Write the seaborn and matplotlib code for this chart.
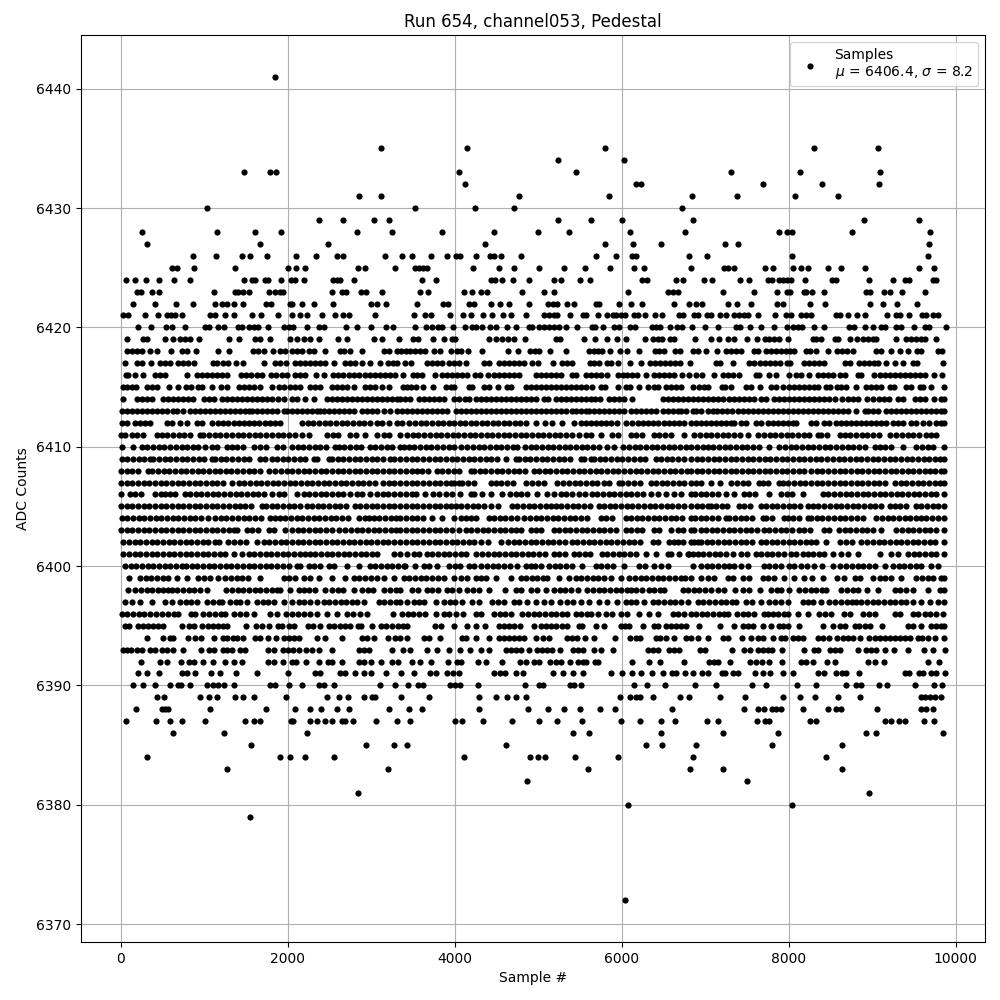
import matplotlib
matplotlib.use('Agg')
import matplotlib.pyplot as plt
import pandas as pd
import seaborn as sns

# sample numbers, one list per ADC level
s6372 = [6040]
s6379 = [1540]
s6380 = [6076, 8044]
s6381 = [2836, 8956]
s6382 = [4864, 7504]
s6383 = [1276, 3196, 5596, 6820, 7216, 8632]
s6384 = [316, 1900, 2020, 2200, 2548, 4108, 4900, 4996, 5080, 5440, 5956, 6856, 8452]
s6385 = [1552, 2932, 3268, 3424, 4612, 6292, 6484, 6892, 7804, 8632]
s6386 = [628, 1240, 2224, 5416, 5608, 6472, 7216, 7876, 8920, 9040, 9844]
s6387 = [64, 424, 592, 736, 1012, 1480, 1588, 1660, 2032, 2056, 2260, 2344, 2440, 2524, 2644, 2680, 2776, 3052, 3304,
         3460, 4000, 4084, 4336, 4684, 5008, 5224, 5524, 5992, 6220, 6472, 6640, 7024, 7156, 7624, 7720, 7768, 8260,
         8332, 9148, 9220, 9316, 9388, 9616, 9736]
s6388 = [184, 496, 532, 568, 1072, 1732, 2080, 2260, 2392, 2584, 2728, 3208, 3448, 3604, 4288, 4876, 5116, 5308, 5500,
         5740, 5920, 6604, 7468, 7636, 7708, 7804, 7852, 7912, 8176, 8476, 8560, 8620, 9052, 9580, 9640, 9724]
s6389 = [436, 520, 952, 1060, 1156, 1360, 1456, 1588, 1972, 2464, 2608, 2716, 2908, 3004, 3040, 3352, 3688, 4288, 4492,
         4624, 4732, 4852, 5980, 6100, 6172, 6220, 6376, 6700, 6808, 7180, 7480, 7936, 8140, 8320, 8584, 8848, 9580,
         9628, 9688, 9748, 9820]
s6390 = [148, 268, 412, 592, 688, 724, 832, 1036, 1108, 1168, 1240, 1348, 1780, 1840, 2008, 2164, 2368, 2428, 2548,
         3100, 3280, 3436, 3556, 3616, 3940, 4000, 4060, 4276, 4840, 5008, 5056, 5380, 5428, 5512, 6148, 6304, 6520,
         6880, 7132, 7564, 7732, 8104, 8332, 8688, 8800, 8860, 9076, 9172, 9508, 9736, 9832]
s6391 = [208, 308, 460, 736, 796, 892, 1084, 1192, 1372, 1624, 1996, 2320, 2380, 2620, 2680, 2800, 2908, 2992, 3172,
         3352, 3508, 3700, 3772, 3904, 3976, 4048, 4468, 4540, 4600, 4732, 4816, 5176, 5296, 5416, 5536, 5872, 6004,
         6124, 6232, 6364, 6496, 6604, 6652, 6760, 6856, 6964, 7036, 7204, 7240, 7336, 7396, 7600, 7696, 7780, 7936,
         8056, 8356, 8428, 8560, 8632, 8680, 8836, 9388, 9436, 9556, 9604, 9700, 9760, 9868]
s6392 = [244, 472, 556, 724, 820, 880, 988, 1108, 1252, 1348, 1444, 1756, 1828, 1936, 2044, 2092, 2212, 2368, 2476,
         2524, 2644, 2848, 2908, 2992, 3112, 3244, 3316, 3484, 3580, 3712, 3916, 4024, 4072, 4276, 4372, 4564, 4780,
         4852, 4948, 5008, 5140, 5212, 5272, 5380, 5476, 5536, 5572, 5680, 5716, 6124, 6328, 6460, 6748, 7048, 7108,
         7156, 7300, 7540, 7612, 7684, 7768, 7924, 8152, 8212, 8296, 8464, 8548, 8944, 9028, 9136, 9664, 9796]
s6393 = [20, 68, 116, 196, 256, 348, 408, 496, 556, 628, 748, 960, 1060, 1116, 1220, 1276, 1328, 1420, 1488, 1756, 1836,
         1936, 1996, 2056, 2132, 2220, 2288, 2368, 2524, 2848, 2908, 2968, 3244, 3376, 3468, 3664, 3784, 3928, 4060,
         4180, 4316, 4408, 4612, 4672, 4732, 4792, 4888, 4988, 5048, 5108, 5168, 5260, 5416, 5476, 5536, 5668, 5748,
         5896, 6316, 6376, 6436, 6568, 6628, 6688, 6940, 6996, 7324, 7468, 7540, 7636, 7696, 7756, 7804, 7916, 8188,
         8308, 8356, 8500, 8548, 8608, 8824, 8928, 8988, 9048, 9148, 9256, 9424, 9616, 9724, 9868]
s6394 = [316, 508, 588, 628, 808, 888, 956, 1120, 1228, 1276, 1340, 1388, 1456, 1600, 1668, 1756, 1856, 1948, 2008, 2068,
         2128, 2348, 2448, 2648, 2888, 2948, 3028, 3196, 3288, 3348, 3428, 3628, 3688, 3820, 4088, 4136, 4256, 4408,
         4528, 4588, 4648, 4708, 4768, 4828, 4968, 5060, 5128, 5348, 5408, 5468, 5560, 5668, 5920, 6100, 6172, 6212,
         6408, 6460, 6528, 6628, 6772, 6828, 6908, 7036, 7208, 7268, 7436, 7548, 7628, 7688, 7816, 7908, 7960, 8048,
         8108, 8168, 8356, 8416, 8480, 8580, 8648, 8708, 8768, 8848, 8956, 9028, 9088, 9148, 9208, 9268, 9328, 9388,
         9448, 9548, 9596, 9664, 9748, 9860]
s6395 = [48, 100, 208, 268, 328, 388, 448, 508, 728, 820, 876, 968, 1048, 1100, 1168, 1228, 1268, 1492, 1612, 1688,
         1768, 1876, 1928, 2008, 2068, 2236, 2296, 2380, 2488, 2548, 2620, 2688, 2748, 2836, 2876, 3008, 3116, 3176,
         3248, 3316, 3376, 3428, 3760, 3828, 3988, 4148, 4256, 4360, 4528, 4588, 4648, 4708, 4780, 4948, 5028, 5088,
         5148, 5208, 5288, 5348, 5488, 5528, 5696, 5788, 5996, 6036, 6088, 6252, 6388, 6436, 6528, 6588, 6648, 6708,
         6768, 6928, 7180, 7348, 7448, 7508, 7568, 7688, 7788, 7888, 7936, 7996, 8128, 8416, 8536, 8608, 8668, 8788,
         8836, 8908, 8968, 9116, 9428, 9488, 9588, 9700, 9760, 9820, 9860]
s6396 = [8, 76, 144, 212, 280, 348, 416, 488, 560, 636, 688, 836, 888, 980, 1060, 1130, 1200, 1248, 1356, 1424, 1492,
         1588, 1788, 1868, 1980, 2050, 2120, 2190, 2260, 2348, 2468, 2588, 2708, 2780, 2860, 2948, 3260, 3368, 3436,
         3504, 3572, 3648, 3776, 3868, 3928, 4008, 4100, 4248, 4308, 4468, 4536, 4604, 4668, 4808, 4876, 4944, 5012,
         5080, 5148, 5216, 5284, 5348, 5448, 5516, 5584, 5628, 5716, 5808, 5888, 5988, 6068, 6208, 6328, 6428, 6608,
         6676, 6744, 6828, 6888, 6956, 7024, 7092, 7160, 7228, 7276, 7380, 7448, 7516, 7588, 7700, 7748, 7808, 7876,
         7944, 7988, 8108, 8228, 8368, 8436, 8508, 8660, 8728, 8888, 8956, 9028, 9268, 9328, 9488, 9548, 9628, 9696,
         9768, 9848]
s6397 = [48, 128, 228, 376, 528, 608, 708, 776, 844, 908, 1028, 1108, 1176, 1208, 1308, 1376, 1428, 1508, 1628, 1696,
         1764, 1828, 1948, 2048, 2128, 2196, 2264, 2348, 2428, 2496, 2564, 2632, 2700, 2768, 2828, 2908, 3088, 3156,
         3224, 3292, 3348, 3428, 3508, 3576, 3628, 3768, 3868, 3936, 4004, 4088, 4208, 4288, 4448, 4516, 4588, 4708,
         4768, 4868, 4968, 5068, 5148, 5260, 5348, 5416, 5508, 5608, 5728, 5828, 5948, 6048, 6108, 6168, 6268, 6368,
         6436, 6504, 6572, 6640, 6708, 6788, 6908, 6976, 7044, 7112, 7188, 7248, 7316, 7368, 7488, 7556, 7668, 7768,
         7836, 7908, 7988, 8168, 8236, 8288, 8388, 8488, 8556, 8624, 8692, 8760, 8808, 8868, 8936, 9004, 9072, 9140,
         9208, 9276, 9348, 9408, 9488, 9588, 9688, 9788, 9860]
s6398 = [88, 168, 236, 308, 376, 448, 508, 568, 608, 676, 744, 812, 880, 948, 1028, 1260, 1328, 1396, 1464, 1532, 1600,
         1668, 1736, 1804, 1872, 1908, 2028, 2128, 2196, 2248, 2328, 2448, 2528, 2596, 2664, 2788, 2888, 2956, 3024,
         3148, 3228, 3296, 3348, 3488, 3556, 3668, 3728, 3796, 3908, 3968, 4048, 4148, 4216, 4284, 4408, 4600, 4728,
         4796, 4908, 4988, 5088, 5188, 5256, 5324, 5388, 5476, 5588, 5656, 5724, 5792, 5860, 5928, 5996, 6064, 6108,
         6168, 6236, 6328, 6388, 6456, 6508, 6728, 6796, 6860, 6928, 6996, 7064, 7148, 7228, 7360, 7456, 7528, 7656,
         7788, 7856, 7908, 8008, 8128, 8196, 8264, 8332, 8400, 8448, 8628, 8696, 8764, 8828, 8940, 9068, 9268, 9336,
         9408, 9488, 9668, 9808, 9860]
s6399 = [96, 228, 296, 364, 432, 500, 568, 668, 796, 928, 996, 1064, 1168, 1248, 1316, 1384, 1452, 1520, 1668, 1948,
         2016, 2084, 2188, 2268, 2368, 2528, 2680, 2788, 2856, 2924, 2992, 3068, 3148, 3268, 3388, 3456, 3524, 3592,
         3660, 3728, 3796, 3868, 3988, 4076, 4144, 4248, 4308, 4376, 4488, 4668, 4788, 4856, 4924, 4988, 5056, 5108,
         5248, 5368, 5448, 5516, 5584, 5652, 5720, 5788, 5868, 5988, 6088, 6156, 6224, 6292, 6360, 6428, 6496, 6564,
         6632, 6708, 6756, 6828, 6948, 7028, 7108, 7268, 7336, 7448, 7520, 7688, 7756, 7824, 7948, 8068, 8180, 8276,
         8408, 8576, 8656, 8788, 8856, 9008, 9088, 9156, 9224, 9348, 9528, 9596, 9664, 9732, 9828, 9860]
s6400 = [48, 116, 184, 252, 320, 388, 456, 524, 592, 660, 728, 780, 848, 916, 984, 1052, 1120, 1188, 1256, 1324, 1392,
         1460, 1528, 1596, 1664, 1732, 1800, 1868, 1936, 2008, 2108, 2148, 2248, 2308, 2388, 2488, 2556, 2708, 2848,
         2988, 3048, 3116, 3184, 3252, 3320, 3388, 3408, 3528, 3628, 3696, 3788, 3928, 3996, 4064, 4168, 4228, 4316,
         4384, 4452, 4520, 4588, 4656, 4748, 4848, 4908, 4956, 5028, 5128, 5196, 5264, 5332, 5400, 5528, 5688, 5756,
         5824, 5892, 6028, 6208, 6276, 6388, 6468, 6548, 6848, 6948, 7016, 7084, 7152, 7220, 7288, 7348, 7428, 7508,
         7700, 7768, 7836, 7904, 8008, 8068, 8148, 8216, 8308, 8396, 8528, 8608, 8688, 8756, 8824, 8892, 8960, 9028,
         9148, 9248, 9316, 9384, 9452, 9520, 9588, 9708, 9788]
s6401 = [28, 96, 164, 232, 300, 368, 436, 504, 572, 640, 708, 776, 844, 912, 980, 1048, 1116, 1184, 1252, 1348, 1444,
         1528, 1596, 1664, 1732, 1800, 1868, 1936, 2004, 2072, 2140, 2208, 2268, 2328, 2396, 2464, 2532, 2600, 2668,
         2736, 2804, 2872, 2940, 3008, 3068, 3268, 3348, 3428, 3508, 3576, 3668, 3728, 3796, 3864, 3932, 4000, 4068,
         4136, 4248, 4328, 4396, 4464, 4532, 4600, 4668, 4736, 4804, 4872, 4940, 5008, 5076, 5188, 5248, 5316, 5428,
         5488, 5556, 5624, 5768, 5828, 5896, 5964, 6032, 6100, 6168, 6288, 6408, 6548, 6588, 6688, 6808, 6788, 6848,
         6908, 6976, 7044, 7112, 7180, 7248, 7328, 7428, 7496, 7608, 7668, 7736, 7804, 7872, 7940, 8028, 8088, 8168,
         8228, 8296, 8364, 8428, 8528, 8628, 8708, 8828, 9088, 9228, 9308, 9428, 9496, 9564, 9632, 9700, 9768, 9860]
s6402 = [28, 96, 164, 232, 300, 368, 436, 504, 572, 640, 708, 776, 844, 912, 980, 1048, 1128, 1180, 1288, 1356, 1424,
         1492, 1628, 1708, 1776, 1844, 1912, 1980, 2048, 2116, 2184, 2252, 2320, 2388, 2456, 2524, 2592, 2660, 2728,
         2796, 2864, 2932, 3000, 3068, 3136, 3204, 3272, 3348, 3416, 3484, 3552, 3620, 3688, 3756, 3824, 3892, 3960,
         4028, 4096, 4164, 4232, 4308, 4396, 4556, 4636, 4704, 4772, 4840, 4908, 4976, 5044, 5112, 5180, 5248, 5316,
         5408, 5468, 5536, 5604, 5672, 5740, 5808, 5876, 5944, 6012, 6088, 6148, 6216, 6368, 6428, 6568, 6628, 6668,
         6728, 6828, 6868, 6908, 6948, 7016, 7084, 7152, 7220, 7288, 7356, 7424, 7492, 7560, 7668, 7728, 7796, 7864,
         7932, 8000, 8068, 8136, 8204, 8272, 8328, 8448, 8608, 8688, 8756, 8868, 8940, 9008, 9076, 9144, 9212, 9280,
         9348, 9416, 9484, 9552, 9620, 9688, 9756, 9860]
s6403 = [0, 68, 136, 204, 272, 340, 408, 476, 544, 612, 680, 748, 816, 884, 952, 1020, 1088, 1156, 1224, 1292, 1348,
         1388, 1508, 1568, 1636, 1768, 1828, 1968, 2048, 2116, 2184, 2252, 2320, 2388, 2456, 2524, 2608, 2688, 2756,
         2824, 2892, 2960, 3028, 3096, 3164, 3232, 3300, 3348, 3416, 3484, 3552, 3620, 3688, 3756, 3824, 3892, 3960,
         4048, 4128, 4196, 4264, 4332, 4400, 4468, 4536, 4604, 4672, 4728, 4788, 4908, 4968, 5028, 5188, 5248, 5316,
         5384, 5452, 5520, 5588, 5656, 5724, 5792, 5860, 5928, 6048, 6108, 6176, 6244, 6388, 6448, 6588, 6668, 6736,
         6828, 6868, 6948, 7008, 7076, 7144, 7212, 7280, 7348, 7416, 7484, 7552, 7620, 7708, 7768, 7836, 7904, 7972,
         8040, 8128, 8188, 8256, 8428, 8488, 8600, 8668, 8736, 8804, 8872, 8940, 9008, 9108, 9288, 9356, 9424, 9492,
         9560, 9628, 9696, 9764, 9860]
s6404 = [8, 76, 144, 212, 280, 348, 416, 484, 552, 620, 688, 756, 824, 892, 960, 1048, 1128, 1196, 1264, 1332, 1400,
         1468, 1536, 1604, 1672, 1788, 1848, 1908, 1968, 2036, 2104, 2172, 2240, 2308, 2376, 2444, 2512, 2580, 2648,
         2716, 2848, 2928, 2968, 3028, 3096, 3164, 3232, 3300, 3348, 3416, 3484, 3552, 3620, 3728, 3848, 3988, 4068,
         4128, 4188, 4256, 4408, 4468, 4536, 4604, 4672, 4740, 4828, 4900, 4968, 5036, 5104, 5172, 5240, 5308, 5376,
         5444, 5512, 5588, 5748, 5816, 5884, 6048, 6108, 6176, 6244, 6312, 6380, 6448, 6516, 6584, 6652, 6720, 6828,
         6876, 6944, 7012, 7080, 7148, 7248, 7288, 7356, 7424, 7492, 7560, 7688, 7728, 7796, 7948, 7988, 8056, 8124,
         8228, 8268, 8336, 8404, 8472, 8540, 8608, 8676, 8744, 8812, 8888, 9048, 9116, 9184, 9252, 9320, 9388, 9456,
         9524, 9588, 9648, 9716, 9784, 9860]
s6405 = [0, 68, 136, 204, 272, 340, 408, 476, 544, 612, 680, 748, 816, 884, 952, 1020, 1088, 1156, 1224, 1292, 1360,
         1428, 1488, 1556, 1688, 1736, 1804, 1872, 1940, 2008, 2076, 2144, 2228, 2288, 2356, 2424, 2492, 2560, 2628,
         2696, 2808, 2868, 2936, 3004, 3072, 3140, 3208, 3276, 3348, 3416, 3484, 3552, 3620, 3688, 3756, 3824, 3892,
         3948, 4008, 4076, 4144, 4212, 4280, 4348, 4428, 4516, 4688, 4748, 4816, 4884, 4952, 5020, 5088, 5148, 5208,
         5276, 5344, 5412, 5480, 5548, 5616, 5728, 5788, 5856, 5924, 5992, 6060, 6128, 6196, 6264, 6332, 6400, 6468,
         6536, 6604, 6672, 6740, 6828, 6896, 6964, 7032, 7068, 7128, 7196, 7264, 7408, 7468, 7536, 7668, 7728, 7796,
         7864, 7932, 8000, 8068, 8136, 8228, 8288, 8356, 8424, 8492, 8560, 8628, 8696, 8764, 8832, 8900, 8968, 9036,
         9104, 9208, 9268, 9336, 9404, 9528, 9588, 9656, 9724, 9792, 9860]
s6406 = [0, 108, 168, 236, 408, 476, 528, 588, 648, 768, 828, 896, 964, 1032, 1100, 1168, 1236, 1304, 1372, 1440, 1508,
         1576, 1644, 1712, 1808, 1888, 1956, 2108, 2188, 2256, 2324, 2392, 2460, 2528, 2596, 2664, 2748, 2828, 2888,
         2980, 3068, 3136, 3204, 3272, 3348, 3416, 3488, 3540, 3648, 3740, 3808, 3888, 3968, 4060, 4188, 4228, 4328,
         4428, 4568, 4660, 4728, 4796, 4864, 4988, 5108, 5188, 5268, 5328, 5408, 5488, 5556, 5648, 5708, 5776, 5844,
         5912, 5980, 6048, 6116, 6184, 6252, 6348, 6428, 6528, 6628, 6708, 6828, 6876, 6944, 7012, 7080, 7148, 7248,
         7348, 7468, 7528, 7596, 7768, 7908, 7976, 8044, 8168, 8408, 8476, 8544, 8612, 8680, 8748, 8816, 8884, 8952,
         9020, 9088, 9156, 9224, 9292, 9360, 9428, 9496, 9564, 9632, 9700, 9768, 9860]
s6407 = [0, 68, 136, 204, 272, 340, 408, 476, 544, 612, 680, 748, 816, 884, 952, 1020, 1088, 1156, 1224, 1328, 1408,
         1476, 1544, 1612, 1680, 1748, 1816, 1884, 1952, 2028, 2088, 2156, 2224, 2292, 2360, 2428, 2496, 2564, 2632,
         2700, 2768, 2836, 2904, 2972, 3048, 3140, 3208, 3276, 3348, 3416, 3484, 3552, 3620, 3688, 3756, 3824, 3892,
         3948, 3988, 4048, 4088, 4156, 4224, 4428, 4488, 4556, 4624, 4692, 4848, 4928, 4996, 5064, 5228, 5300, 5368,
         5436, 5504, 5572, 5640, 5708, 5788, 5848, 5968, 6008, 6076, 6144, 6212, 6348, 6408, 6476, 6544, 6612, 6680,
         6748, 6828, 6888, 6948, 7068, 7180, 7308, 7380, 7448, 7516, 7648, 7688, 7756, 7888, 7928, 7996, 8064, 8132,
         8200, 8268, 8336, 8404, 8472, 8540, 8608, 8676, 8744, 8812, 8880, 8948, 9016, 9084, 9152, 9268, 9340, 9408,
         9476, 9544, 9612, 9680, 9748, 9816, 9860]
s6408 = [0, 68, 136, 204, 328, 376, 444, 512, 580, 648, 716, 784, 852, 920, 988, 1056, 1128, 1188, 1256, 1324, 1392,
         1460, 1528, 1596, 1664, 1768, 1848, 1916, 1984, 2052, 2120, 2188, 2256, 2324, 2392, 2460, 2528, 2596, 2664,
         2732, 2800, 2868, 2936, 3004, 3072, 3140, 3208, 3276, 3348, 3416, 3484, 3548, 3608, 3676, 3788, 3848, 3916,
         3984, 4052, 4188, 4228, 4296, 4364, 4432, 4500, 4568, 4636, 4704, 4772, 4840, 4948, 5008, 5076, 5144, 5212,
         5280, 5348, 5416, 5484, 5552, 5620, 5688, 5756, 5824, 5892, 5960, 6028, 6096, 6164, 6232, 6300, 6368, 6436,
         6504, 6572, 6640, 6708, 6776, 6828, 6896, 6964, 7032, 7100, 7168, 7236, 7304, 7372, 7440, 7508, 7576, 7644,
         7712, 7780, 7848, 7916, 7984, 8052, 8120, 8188, 8268, 8336, 8404, 8472, 8540, 8608, 8676, 8744, 8812, 8880,
         8948, 9016, 9084, 9152, 9220, 9288, 9356, 9424, 9492, 9560, 9628, 9688, 9756, 9824, 9860]
s6409 = [8, 76, 144, 212, 280, 348, 388, 456, 524, 592, 660, 728, 796, 864, 932, 1000, 1088, 1128, 1196, 1264, 1332,
         1400, 1468, 1536, 1668, 1728, 1808, 1868, 1936, 2004, 2072, 2140, 2208, 2308, 2348, 2488, 2528, 2596, 2664,
         2732, 2800, 2868, 2936, 3004, 3072, 3140, 3228, 3268, 3348, 3416, 3484, 3552, 3620, 3688, 3756, 3824, 3892,
         3960, 4028, 4096, 4164, 4232, 4300, 4368, 4436, 4508, 4616, 4728, 4768, 4836, 4904, 4972, 5040, 5108, 5176,
         5244, 5312, 5380, 5508, 5548, 5628, 5668, 5736, 5804, 5872, 5940, 6008, 6076, 6144, 6212, 6280, 6408, 6468,
         6536, 6604, 6672, 6740, 6828, 6896, 6964, 7032, 7100, 7168, 7236, 7304, 7372, 7440, 7508, 7576, 7644, 7712,
         7780, 7848, 7916, 7984, 8052, 8120, 8188, 8256, 8324, 8392, 8460, 8528, 8596, 8664, 8732, 8800, 8868, 8936,
         9004, 9072, 9140, 9208, 9276, 9344, 9412, 9480, 9548, 9616, 9684, 9748, 9808, 9860]
s6410 = [8, 148, 248, 316, 384, 452, 520, 588, 656, 728, 796, 864, 928, 1008, 1088, 1156, 1268, 1328, 1388, 1456, 1588,
         1668, 1736, 1868, 1940, 2048, 2116, 2184, 2252, 2320, 2388, 2456, 2568, 2608, 2676, 2744, 2812, 2880, 2988,
         3048, 3116, 3184, 3252, 3348, 3388, 3448, 3516, 3584, 3652, 3720, 3788, 3856, 3924, 3992, 4068, 4148, 4216,
         4284, 4352, 4420, 4488, 4556, 4624, 4692, 4748, 4840, 4908, 4976, 5044, 5112, 5180, 5248, 5316, 5384, 5452,
         5520, 5588, 5656, 5724, 5828, 5908, 6016, 6084, 6152, 6220, 6288, 6356, 6424, 6492, 6560, 6628, 6696, 6764,
         6828, 6896, 6968, 7028, 7096, 7164, 7232, 7300, 7368, 7436, 7504, 7572, 7640, 7768, 7888, 7956, 8024, 8092,
         8160, 8228, 8296, 8364, 8432, 8500, 8568, 8636, 8704, 8772, 8840, 8908, 9028, 9088, 9156, 9224, 9368, 9528,
         9596, 9664, 9732, 9860]
s6411 = [0, 48, 128, 196, 264, 428, 488, 556, 624, 692, 760, 828, 948, 988, 1056, 1124, 1192, 1260, 1328, 1396, 1464,
         1532, 1600, 1668, 1736, 1808, 1876, 1944, 2012, 2080, 2168, 2248, 2468, 2536, 2604, 2748, 2820, 2928, 3068,
         3148, 3216, 3348, 3428, 3496, 3564, 3632, 3700, 3768, 3836, 3904, 3972, 4040, 4108, 4176, 4244, 4312, 4380,
         4448, 4516, 4584, 4652, 4720, 4788, 4856, 4924, 4992, 5060, 5128, 5196, 5264, 5332, 5400, 5488, 5568, 5636,
         5748, 5888, 5956, 6108, 6168, 6236, 6388, 6448, 6516, 6584, 6748, 6868, 6936, 7004, 7072, 7140, 7208, 7276,
         7344, 7412, 7508, 7636, 7704, 7772, 7840, 7908, 7976, 8044, 8112, 8180, 8248, 8348, 8388, 8456, 8608, 8668,
         8736, 8804, 8872, 8940, 9008, 9076, 9208, 9288, 9356, 9424, 9492, 9560, 9648, 9708, 9768]
s6412 = [8, 68, 168, 228, 288, 348, 548, 608, 708, 788, 908, 968, 1088, 1168, 1228, 1288, 1348, 1408, 1468, 1528, 1588,
         1648, 1728, 1788, 1848, 1908, 2168, 2236, 2304, 2372, 2440, 2508, 2576, 2644, 2712, 2780, 2848, 2916, 2988,
         3068, 3128, 3208, 3308, 3368, 3448, 3528, 3594, 3660, 3726, 3792, 3858, 3924, 3990, 4056, 4122, 4188, 4254,
         4320, 4386, 4452, 4518, 4584, 4650, 4716, 4782, 4848, 4968, 5080, 5168, 5288, 5428, 5516, 5576, 5636, 5696,
         5756, 5816, 5876, 5948, 6048, 6128, 6190, 6252, 6314, 6376, 6438, 6500, 6562, 6624, 6686, 6748, 6828, 6888,
         6948, 7008, 7068, 7128, 7188, 7248, 7308, 7348, 7428, 7488, 7608, 7668, 7748, 7808, 7868, 7928, 7988, 8048,
         8088, 8268, 8328, 8428, 8488, 8568, 8628, 8688, 8748, 8808, 8868, 8928, 8988, 9048, 9108, 9168, 9248, 9308,
         9368, 9468, 9528, 9608, 9676, 9768, 9828, 9860]
s6413 = [8, 68, 128, 188, 248, 308, 368, 428, 488, 548, 620, 668, 748, 828, 888, 948, 1008, 1068, 1128, 1188, 1248, 1308,
         1368, 1428, 1488, 1528, 1568, 1628, 1688, 1748, 1808, 1868, 1948, 1988, 2048, 2108, 2168, 2228, 2288, 2348,
         2388, 2428, 2488, 2548, 2608, 2668, 2728, 2788, 2888, 2948, 3008, 3068, 3148, 3220, 3308, 3368, 3428, 3488,
         3548, 3608, 3668, 3728, 3788, 3848, 3908, 4008, 4068, 4128, 4188, 4248, 4308, 4368, 4428, 4488, 4548, 4608,
         4668, 4728, 4788, 4848, 4908, 4968, 5028, 5088, 5148, 5208, 5268, 5328, 5408, 5448, 5508, 5568, 5608, 5668,
         5728, 5788, 5848, 5908, 5968, 6028, 6108, 6168, 6228, 6288, 6348, 6408, 6488, 6548, 6608, 6668, 6708, 6768,
         6848, 6888, 6948, 7028, 7088, 7140, 7200, 7260, 7320, 7388, 7448, 7508, 7568, 7628, 7688, 7748, 7808, 7868,
         7928, 7988, 8048, 8108, 8168, 8228, 8288, 8348, 8408, 8468, 8528, 8588, 8648, 8708, 8808, 8908, 8948, 9008,
         9068, 9168, 9228, 9288, 9348, 9408, 9468, 9528, 9588, 9648, 9708, 9768, 9828, 9860]
s6414 = [20, 188, 248, 308, 368, 508, 568, 628, 688, 748, 808, 868, 996, 1056, 1116, 1208, 1268, 1328, 1388, 1448, 1508,
         1568, 1628, 1688, 1748, 1808, 1880, 1948, 2048, 2108, 2208, 2308, 2468, 2528, 2588, 2648, 2708, 2768, 2828,
         2888, 2948, 3008, 3068, 3128, 3188, 3248, 3308, 3348, 3408, 3468, 3568, 3628, 3688, 3748, 3808, 3868, 3988,
         4048, 4116, 4168, 4248, 4308, 4368, 4428, 4488, 4548, 4608, 4668, 4728, 4788, 4848, 4908, 4968, 5068, 5116,
         5208, 5268, 5328, 5388, 5448, 5508, 5568, 5628, 5676, 5740, 5848, 5908, 5968, 6028, 6128, 6488, 6548, 6608,
         6668, 6728, 6788, 6848, 6908, 6968, 7028, 7088, 7148, 7208, 7288, 7348, 7408, 7468, 7528, 7580, 7668, 7728,
         7820, 7880, 7940, 8000, 8060, 8120, 8180, 8240, 8300, 8360, 8420, 8480, 8548, 8636, 8708, 8768, 8828, 8940,
         9008, 9076, 9136, 9196, 9308, 9368, 9516, 9576, 9636, 9736, 9828, 9860]
s6415 = [20, 68, 128, 180, 308, 368, 428, 580, 688, 780, 836, 928, 976, 1088, 1196, 1276, 1408, 1468, 1528, 1588, 1668,
         1808, 1888, 1948, 2028, 2088, 2148, 2268, 2328, 2380, 2528, 2588, 2648, 2708, 2788, 2928, 2988, 3048, 3128,
         3208, 3380, 3428, 3476, 3540, 3616, 3736, 3888, 3948, 3988, 4168, 4208, 4348, 4408, 4520, 4628, 4676, 4848,
         4908, 4968, 5028, 5088, 5148, 5208, 5268, 5328, 5388, 5448, 5508, 5568, 5648, 5748, 5796, 5956, 6048, 6100,
         6208, 6316, 6388, 6436, 6528, 6588, 6648, 6708, 6848, 6928, 6988, 7028, 7196, 7240, 7308, 7488, 7548, 7660,
         7788, 7848, 7928, 8008, 8068, 8128, 8188, 8248, 8308, 8348, 8448, 8496, 8576, 8628, 8688, 8800, 8928, 8988,
         9048, 9108, 9208, 9256, 9408, 9468, 9576, 9608, 9700, 9860]
s6416 = [60, 88, 168, 260, 408, 468, 528, 788, 908, 968, 1028, 1088, 1148, 1208, 1268, 1436, 1496, 1556, 1628, 1688,
         1796, 1856, 1928, 1988, 2088, 2148, 2208, 2340, 2428, 2536, 2596, 2656, 2728, 2788, 2848, 2928, 2988, 3048,
         3108, 3168, 3228, 3288, 3380, 3500, 3548, 3608, 3760, 3848, 3908, 3968, 4028, 4088, 4148, 4236, 4296, 4400,
         4468, 4528, 4588, 4648, 4708, 4768, 4976, 5036, 5088, 5148, 5208, 5268, 5400, 5452, 5576, 5628, 5688, 5748,
         5828, 5960, 6016, 6068, 6128, 6180, 6288, 6388, 6448, 6508, 6568, 6628, 6716, 6808, 6888, 6956, 7108, 7208,
         7268, 7328, 7408, 7608, 7648, 7768, 7848, 8008, 8088, 8148, 8248, 8348, 8408, 8468, 8528, 8608, 8668, 8828,
         8868, 9020, 9088, 9156, 9216, 9276, 9336, 9396, 9456, 9516, 9576, 9636, 9740, 9836]
s6417 = [52, 188, 248, 356, 468, 528, 592, 688, 748, 808, 876, 1108, 1156, 1228, 1288, 1372, 1460, 1708, 1848, 1908,
         1976, 2088, 2148, 2208, 2268, 2328, 2388, 2448, 2548, 2680, 2748, 2808, 2888, 2980, 3100, 3196, 3256, 3308,
         3408, 3476, 3668, 3728, 3788, 3848, 3928, 3988, 4048, 4128, 4348, 4408, 4528, 4588, 4648, 4708, 4768, 4828,
         4928, 4996, 5176, 5288, 5348, 5408, 5616, 5668, 5728, 5820, 5876, 5956, 6096, 6228, 6340, 6400, 6460, 6520,
         6580, 6640, 6700, 6820, 7128, 7180, 7328, 7528, 7580, 7660, 7720, 7780, 7840, 7900, 7980, 8020, 8180, 8240,
         8300, 8360, 8420, 8668, 8728, 8836, 8896, 8956, 9016, 9068, 9168, 9268, 9368, 9488, 9536, 9844]
s6418 = [68, 128, 188, 248, 348, 436, 604, 736, 796, 900, 1168, 1300, 1580, 1636, 1708, 1816, 1908, 1968, 2048, 2108,
         2168, 2248, 2308, 2448, 2620, 2676, 2748, 2888, 3156, 3208, 3308, 3356, 3412, 3468, 3528, 3588, 3648, 3748,
         3820, 3956, 4020, 4076, 4156, 4324, 4636, 4756, 4896, 4956, 5008, 5140, 5328, 5608, 5668, 5716, 5768, 5860,
         5980, 6068, 6200, 6396, 6448, 6508, 6636, 6700, 6856, 6908, 7012, 7144, 7248, 7308, 7368, 7428, 7580, 7636,
         7728, 7788, 7848, 7908, 7968, 8020, 8068, 8212, 8260, 8328, 8476, 8576, 8636, 8696, 8768, 9048, 9108, 9220,
         9336, 9428, 9532, 9580, 9788, 9836]
s6419 = [76, 268, 308, 532, 628, 708, 768, 832, 940, 1300, 1408, 1608, 1668, 1780, 2020, 2108, 2188, 2260, 2368, 2596,
         2704, 3028, 3128, 3328, 3500, 3556, 3736, 3868, 3968, 4000, 4408, 4488, 4568, 4636, 4708, 4840, 5216, 5256,
         5548, 5680, 5820, 5948, 6052, 6280, 6376, 6428, 6476, 6580, 6628, 6880, 7068, 7168, 7276, 7340, 7504, 7624,
         7716, 7768, 7828, 7888, 7996, 8288, 8328, 8392, 8548, 8588, 8728, 8816, 8888, 8948, 9008, 9048, 9280, 9400,
         9460, 9528, 9588, 9628, 9760]
s6420 = [208, 364, 544, 616, 772, 1012, 1060, 1168, 1240, 1396, 1444, 1528, 1588, 1636, 1760, 1948, 2008, 2056, 2224,
         2368, 2428, 2692, 2824, 2992, 3172, 3256, 3520, 3652, 3724, 3796, 3844, 3976, 4120, 4204, 4252, 4324, 4420,
         4492, 4624, 4732, 4888, 4924, 5008, 5068, 5128, 5188, 5248, 5332, 5464, 5644, 5680, 5776, 5908, 5968, 6100,
         6160, 6364, 6412, 6460, 6580, 6664, 6724, 6844, 7000, 7156, 7372, 7420, 7540, 7672, 7828, 7984, 8056, 8116,
         8164, 8308, 8428, 8716, 8776, 8908, 9004, 9100, 9148, 9280, 9340, 9496, 9628, 9676, 9880]
s6421 = [28, 88, 292, 448, 556, 604, 652, 736, 1072, 1132, 1252, 1348, 1564, 1672, 1876, 2044, 2140, 2224, 2404, 2560,
         2656, 2728, 3040, 3508, 3640, 3712, 3940, 4096, 4192, 4336, 4444, 4576, 4672, 4852, 5068, 5128, 5188, 5228,
         5380, 5536, 5572, 5716, 5824, 5896, 5932, 5992, 6040, 6148, 6196, 6280, 6400, 6484, 6688, 6736, 6868, 6916,
         7024, 7072, 7180, 7252, 7348, 7408, 7468, 7508, 7636, 7840, 7972, 8032, 8152, 8212, 8272, 8560, 8608, 8704,
         8812, 8908, 9172, 9280, 9328, 9436, 9592, 9640, 9724, 9784]
s6422 = [148, 412, 664, 868, 1132, 1216, 1276, 1348, 1456, 1732, 1792, 2020, 2044, 2164, 2308, 2536, 2992, 3064, 3172,
         3544, 3856, 3916, 4168, 4228, 4432, 4540, 4648, 4888, 5116, 5176, 5228, 5344, 5428, 5692, 5728, 5968, 6112,
         6244, 6628, 6808, 6892, 6964, 7276, 7384, 7552, 7864, 7936, 8260, 8440, 8968, 9124, 9292, 9532]
s6423 = [196, 236, 376, 460, 1120, 1360, 1396, 1456, 1528, 1768, 1840, 1900, 1936, 2524, 2644, 2692, 2872, 2932, 3124,
         3580, 3676, 4108, 4204, 4312, 4384, 4804, 5068, 5188, 6076, 6556, 6616, 6676, 7216, 7588, 7864, 7984, 8020,
         8188, 8212, 8284, 8428, 8920, 8968, 9136, 9208, 9352, 9628]
s6424 = [64, 164, 304, 460, 640, 832, 1468, 1564, 1600, 1720, 1756, 1912, 2032, 2080, 2188, 2536, 2584, 2620, 2788,
         3604, 3772, 4432, 4480, 4564, 4696, 4888, 5188, 5272, 5500, 5620, 6244, 6304, 6652, 6736, 6988, 7084, 7420,
         7528, 7756, 7804, 7888, 7936, 7984, 8032, 8200, 8524, 8560, 8956, 9244, 9388, 9436, 9724, 9760]
s6425 = [612, 676, 880, 1360, 1996, 2092, 2200, 2836, 2920, 3280, 3520, 3568, 3616, 3664, 4216, 4528, 4708, 5008, 5308,
         5560, 5860, 6148, 6268, 6832, 7228, 7276, 7348, 7720, 7816, 8056, 8152, 8236, 8476, 8620, 8908, 9556, 9736]
s6426 = [868, 1144, 1444, 1540, 1744, 2092, 2332, 2584, 2656, 3160, 3364, 3484, 3712, 3904, 4016, 4060, 4252, 4420,
         4468, 4552, 4792, 5692, 5932, 6124, 6172, 6808, 7024, 8044, 9664]
s6427 = [316, 1660, 2476, 4360, 5800, 6136, 6472, 7240, 7396, 9676]
s6428 = [256, 1156, 1600, 1912, 2824, 3244, 3844, 4468, 4996, 5368, 6100, 6760, 7888, 7984, 8044, 8752, 9688]
s6429 = [2368, 2656, 3028, 3208, 5236, 5632, 6004, 6856, 8896, 9556]
s6430 = [1036, 3520, 4240, 4708, 6724]
s6431 = [2848, 3112, 4768, 5848, 6844, 7384, 8080, 8584]
s6432 = [4120, 6172, 6232, 7696, 8404, 9076]
s6433 = [1468, 1780, 1856, 4048, 5452, 7312, 8140, 9088]
s6434 = [5236, 6028]
s6435 = [3112, 4144, 5800, 8308, 9064]
s6441 = [1840]

adc_levels = [6372, 6379, 6380, 6381, 6382, 6383, 6384, 6385, 6386, 6387, 6388, 6389, 6390, 6391, 6392, 6393, 6394,
              6395, 6396, 6397, 6398, 6399, 6400, 6401, 6402, 6403, 6404, 6405, 6406, 6407, 6408, 6409, 6410, 6411,
              6412, 6413, 6414, 6415, 6416, 6417, 6418, 6419, 6420, 6421, 6422, 6423, 6424, 6425, 6426, 6427, 6428,
              6429, 6430, 6431, 6432, 6433, 6434, 6435, 6441]
level_samples = [s6372, s6379, s6380, s6381, s6382, s6383, s6384, s6385, s6386, s6387, s6388, s6389, s6390, s6391,
                 s6392, s6393, s6394, s6395, s6396, s6397, s6398, s6399, s6400, s6401, s6402, s6403, s6404, s6405,
                 s6406, s6407, s6408, s6409, s6410, s6411, s6412, s6413, s6414, s6415, s6416, s6417, s6418, s6419,
                 s6420, s6421, s6422, s6423, s6424, s6425, s6426, s6427, s6428, s6429, s6430, s6431, s6432, s6433,
                 s6434, s6435, s6441]

x_ticks = [0, 2000, 4000, 6000, 8000, 10000]
y_ticks = [6370, 6380, 6390, 6400, 6410, 6420, 6430, 6440]

rows = []
for level, samples in zip(adc_levels, level_samples):
    for sample in samples:
        rows.append((sample, level))
df = pd.DataFrame(rows, columns=['sample', 'adc'])

fig, ax = plt.subplots(figsize=(10, 10), dpi=100)
sns.scatterplot(data=df, x='sample', y='adc', color='k', marker='o', s=20, linewidth=0, ax=ax,
                label='Samples\n$\\mu$ = 6406.4, $\\sigma$ = 8.2')

ax.set_xlim(-479, 10351)
ax.set_ylim(6368.5, 6444.5)
ax.set_xticks(x_ticks)
ax.set_yticks(y_ticks)
ax.ticklabel_format(useOffset=False, style='plain')
ax.grid(True)
ax.set_axisbelow(True)
ax.set_xlabel('Sample #')
ax.set_ylabel('ADC Counts')
ax.set_title('Run 654, channel053, Pedestal')
ax.legend(loc='upper right')

fig.subplots_adjust(left=0.081, right=0.985, top=0.965, bottom=0.058)
fig.savefig('out.png', dpi=100)
